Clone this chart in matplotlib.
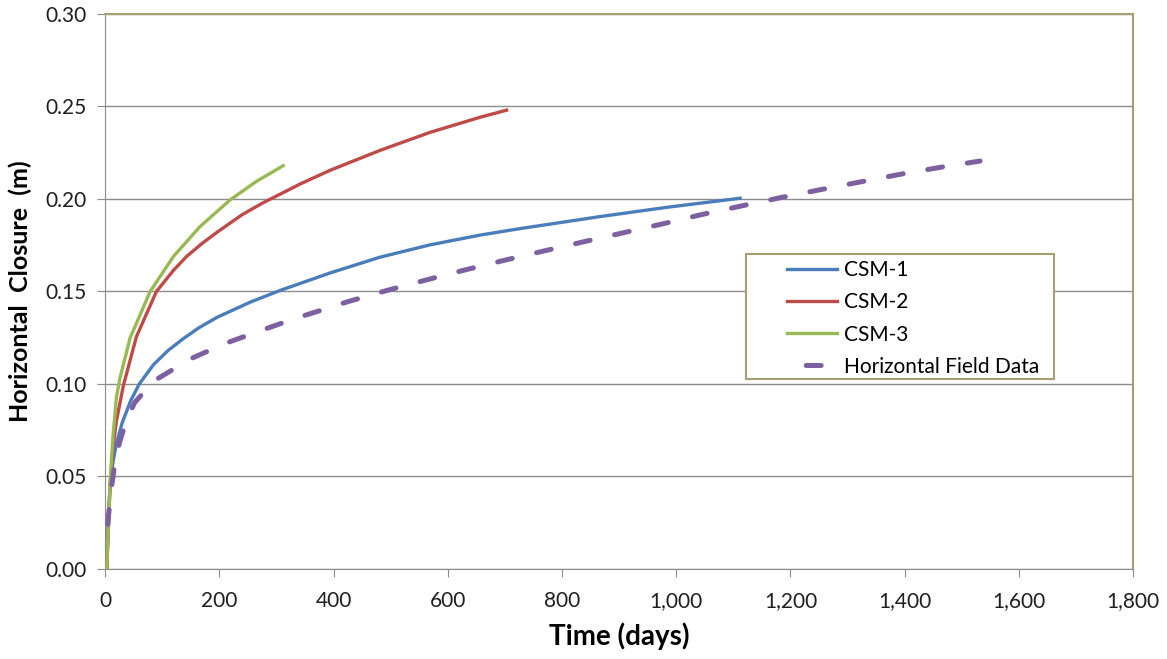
import numpy as np
import matplotlib.pyplot as plt
from matplotlib.patches import Rectangle
from matplotlib.ticker import FuncFormatter

# values
csm1_days = [3, 6, 9, 14, 20, 30, 45, 60, 85, 110, 137, 165, 196, 254, 306, 394, 481, 569,
             657, 727, 867, 984, 1112]
csm1_vals = [0.0, 0.030, 0.045, 0.058, 0.068, 0.079, 0.091, 0.100, 0.1105, 0.118, 0.1245,
             0.1305, 0.1360, 0.1442, 0.1505, 0.1600, 0.1685, 0.1752, 0.1805, 0.1840, 0.1905,
             0.1955, 0.2004]

csm2_days = [3, 9, 14, 20, 32, 55, 90, 120, 143, 170, 196, 240, 277, 306, 341, 394, 481,
             569, 657, 703]
csm2_vals = [0.0, 0.046, 0.066, 0.080, 0.099, 0.1256, 0.150, 0.1615, 0.1690, 0.176, 0.182,
             0.1915, 0.198, 0.2025, 0.208, 0.2155, 0.2262, 0.2360, 0.2442, 0.248]

csm3_days = [3, 6, 9, 14, 20, 26, 44, 79, 120, 166, 219, 265, 312]
csm3_vals = [0.0, 0.025, 0.048, 0.072, 0.093, 0.103, 0.125, 0.150, 0.169, 0.185, 0.1995,
             0.2095, 0.218]

field_days = [2, 4, 6, 9, 14, 18, 26, 38, 52, 85, 149, 213, 283, 336, 423, 493, 557, 627,
              697, 767, 837, 907, 977, 1042, 1112, 1187, 1257, 1322, 1400, 1470, 1532]
field_vals = [0.014, 0.021, 0.028, 0.039, 0.050, 0.059, 0.069, 0.081, 0.090, 0.1015, 0.1135,
              0.1222, 0.1300, 0.1357, 0.1443, 0.1505, 0.1558, 0.1614, 0.1667, 0.1718, 0.1768,
              0.1817, 0.1866, 0.1914, 0.1961, 0.2010, 0.2053, 0.2092, 0.2138, 0.2175, 0.2205]

plt.rcParams['font.family'] = ['Lato', 'DejaVu Sans']

fig = plt.figure(figsize=(11.67, 6.59), dpi=100)
ax = fig.add_axes([0.090, 0.1366, 0.881, 0.8422])

ax.set_xlim(0, 1800)
ax.set_ylim(0, 0.30)

ax.plot(csm1_days, csm1_vals, color='#4a7ebb', lw=2.4, label='CSM-1', zorder=3)
ax.plot(csm2_days, csm2_vals, color='#be4b48', lw=2.4, label='CSM-2', zorder=3)
ax.plot(csm3_days, csm3_vals, color='#98b954', lw=2.4, label='CSM-3', zorder=3)

# shift the dash pattern so the dashed line ends on a dash, as in the original
lw_f = 3.6
pts = ax.transData.transform(np.column_stack([field_days, field_vals])) * 72 / fig.dpi
path_len = np.hypot(*np.diff(pts, axis=0).T).sum() / lw_f
offset = (2.6 - path_len) % 8
ax.plot(field_days, field_vals, color='#7d60a0', lw=lw_f, ls=(offset, (3, 5)),
        dash_capstyle='round', label='Horizontal Field Data', zorder=4)

ax.set_xticks(range(0, 1801, 200))
ax.set_yticks([0, 0.05, 0.10, 0.15, 0.20, 0.25, 0.30])
ax.xaxis.set_major_formatter(FuncFormatter(lambda v, p: f'{int(v):,}'))
ax.yaxis.set_major_formatter(FuncFormatter(lambda v, p: f'{v:.2f}'))
ax.grid(axis='y', color='#8c8c8c', lw=1)
ax.set_axisbelow(True)

for s in ['left', 'bottom']:
    ax.spines[s].set_color('#8c8c8c')
for s in ['top', 'right']:
    ax.spines[s].set_color('#a89f6f')
    ax.spines[s].set_linewidth(1.5)
ax.tick_params(direction='out', length=6, color='#8c8c8c', labelsize=15, labelcolor='#1f1f1f')
ax.tick_params(axis='x', pad=10)
ax.tick_params(axis='y', pad=7)

ax.set_xlabel('Time (days)', fontsize=20, fontweight='bold', labelpad=8)
ax.set_ylabel('Horizontal  Closure  (m)', fontsize=18, fontweight='bold', labelpad=10)

# legend box drawn separately so the left margin can be wider than the right
ax.add_patch(Rectangle((0.623, 0.342), 0.300, 0.226, transform=ax.transAxes,
                       facecolor='white', edgecolor='#a89f6f', lw=1.5, zorder=5))
leg = ax.legend(loc='upper left', bbox_to_anchor=(0.663, 0.556), fontsize=15,
                frameon=False, handlelength=2.4, borderpad=0, borderaxespad=0,
                labelspacing=0.58, handletextpad=0.35)
leg.set_zorder(6)

fig.savefig('out.png', dpi=100)
